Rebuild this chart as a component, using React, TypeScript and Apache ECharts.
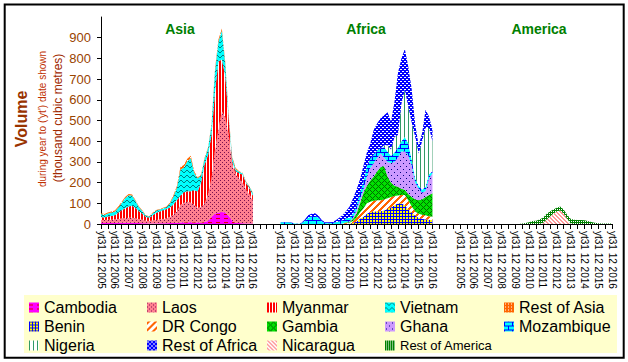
import React, { useEffect, useRef } from 'react';
import * as echarts from 'echarts';

const years = [2005, 2006, 2007, 2008, 2009, 2010, 2011, 2012, 2013, 2014, 2015, 2016];
const regionTitles = ['Asia', 'Africa', 'America'];
const regionStart = [0, 52, 104]; // first quarter index of each region on the shared axis
const totalQuarters = 149;
const yTickValues = [0, 100, 200, 300, 400, 500, 600, 700, 800, 900];

// Quarterly values, yt Dec 2005 .. yt Dec 2016 (thousand m3)
const cambodia = [5,5,5,5,5, 6,6,6,6, 6,5,5,4, 4,3,3,3, 4,4,4,5, 5,6,7,8, 8,8,8,7, 7,10,15,35, 50,55,58,55, 40,15,5,5, 4,3,3,2];
const laos = [14,14,15,16,17, 18,20,22,24, 24,22,18,16, 12,12,14,16, 18,20,24,30, 40,55,85,95, 100,95,85,70, 75,88,127,185, 305,400,487,460, 390,275,235,215, 195,165,140,110];
const myanmar = [15,12,16,18,20, 30,40,48,55, 58,50,38,30, 18,15,25,35, 38,42,45,45, 50,55,45,50, 50,55,70,80, 120,190,190,210, 280,330,250,200, 75,10,15,25, 40,30,30,25];
const vietnam = [14,13,15,16,17, 25,36,48,54, 50,34,20,12, 6,6,10,11, 10,9,9,20, 38,60,125,120, 145,160,85,63, 33,27,33,45, 100,95,140,55, 10,20,10,7, 6,5,7,10];
const restOfAsia = [4,4,5,5,6, 6,6,6,6, 5,4,4,3, 2,2,3,3, 3,3,3,5, 7,9,13,12, 12,12,7,5, 5,5,5,5, 10,10,10,10, 5,5,5,3, 3,2,2,3];

const benin = [0,0,0,0,0,0,0,0,0,0,0,0,0,0,0,0,0,0,0, 1,2,5,12,25,35,50,58,60,62,62,65,72,80,90,100,100,90,70,55,40,30,25,22,20,18];
const drCongo = [0,0,0,0,0,0,0,0,0,0,0,0,0,0,0,0,0,0, 2,5,4,10,18,30,40,50,50,52,53,53,53,53,50,45,38,40,50,45,30,20,20,20,20,18,17];
const gambia = [0,0,0,0,0,0,0,0,0,0,0,0,0,0,0,0,0,0,0, 2,4,10,20,45,75,85,102,118,140,160,162,105,70,50,42,30,25,30,45,60,65,75,88,102,113];
const ghana = [0,0,0,0,0,0,0,0,0,0,0,0,0,0,0,0,0,0,0,0, 2,5,15,20,15,45,60,65,65,65,40,70,95,115,140,180,185,185,150,80,55,30,30,80,97];
const mozambique = [8,8,8,6,2,1,3,15,30,38,40,30,12,5,4,5,8,12,16,20, 18,20,25,30,35,50,45,40,35,26,52,50,35,45,50,50,70,60,30,20,15,15,20,20,10];
const nigeria = [0,0,0,0,0,0,0,0,0,0,0,0,0,0,0,0,0,0,0,0,0,0,0,0,0,0,0,0,0,0, 8,30,30,75,60,180,228,177,179,200,155,235,284,224,145];
const restOfAfrica = [2,2,2,2,1,1,2,5,12,12,12,10,6,4,4,5,10,18,25,35, 54,75,75,65,80,65,75,120,132,145,145,160,135,170,300,220,197,193,161,60,40,39,88,55,55];

const nicaragua = [0,0,0,0,0,0,0,0,0,0,0,0,0,0,0,0,0,0,0,0,0,0,0,0, 5,20,35,50,60,65,50,25,3, 0,0,0,0,0,0,0,0,0,0,0,0];
const restOfAmerica = [0,0,0,0,0,0,0,0,0,0,0,0,0,0,0,0,0,0, 2,5,8,15,16,22,25,28,25,20,18,19,20,20,22,20,19,19,18,15,10,6,4,3,3,3,3];

const seriesDefs = [
  { name: 'Cambodia', region: 0, data: cambodia },
  { name: 'Laos', region: 0, data: laos },
  { name: 'Myanmar', region: 0, data: myanmar },
  { name: 'Vietnam', region: 0, data: vietnam },
  { name: 'Rest of Asia', region: 0, data: restOfAsia },
  { name: 'Benin', region: 1, data: benin },
  { name: 'DR Congo', region: 1, data: drCongo },
  { name: 'Gambia', region: 1, data: gambia },
  { name: 'Ghana', region: 1, data: ghana },
  { name: 'Mozambique', region: 1, data: mozambique },
  { name: 'Nigeria', region: 1, data: nigeria },
  { name: 'Rest of Africa', region: 1, data: restOfAfrica },
  { name: 'Nicaragua', region: 2, data: nicaragua },
  { name: 'Rest of America', region: 2, data: restOfAmerica },
];

const legendColumns = [
  ['Cambodia', 'Benin', 'Nigeria'],
  ['Laos', 'DR Congo', 'Rest of Africa'],
  ['Myanmar', 'Gambia', 'Nicaragua'],
  ['Vietnam', 'Ghana', 'Rest of America'],
  ['Rest of Asia', 'Mozambique'],
];
const legendColumnX = [29, 147, 267, 385, 504];

const FONT = '"Liberation Sans", Arial, Helvetica, sans-serif';

function tile(w: number, h: number, bg: string, fg: string, pred: (x: number, y: number) => boolean) {
  const c = document.createElement('canvas');
  c.width = w;
  c.height = h;
  const ctx = c.getContext('2d')!;
  ctx.fillStyle = bg;
  ctx.fillRect(0, 0, w, h);
  ctx.fillStyle = fg;
  for (let y = 0; y < h; y++) for (let x = 0; x < w; x++) if (pred(x, y)) ctx.fillRect(x, y, 1, 1);
  return { image: c, repeat: 'repeat' };
}

function makePatterns(): Record<string, any> {
  const wave = [0, 0, 1, 2, 2, 1];
  return {
    'Cambodia': tile(8, 4, '#FF00FF', '#E00000', (x, y) => y === 2 && x < 4),
    'Laos': tile(4, 4, '#FF7F8F', '#7A1050', (x, y) => (x === 0 && y === 0) || (x === 2 && y === 2)),
    'Myanmar': tile(3, 1, '#FFFFFF', '#FF0000', (x) => x < 2),
    'Vietnam': tile(6, 5, '#00FFFF', '#008080', (x, y) => y === wave[x]),
    'Rest of Asia': tile(3, 3, '#FF6600', '#FFFFFF', (x, y) => x === 1 && y === 1),
    'Benin': tile(3, 3, '#0000FF', '#FFFF00', (x, y) => x > 0 && y > 0),
    'DR Congo': tile(7, 7, '#FFFFFF', '#FF6600', (x, y) => (x + y) % 7 < 3),
    'Gambia': tile(6, 6, '#00E000', '#006E00', (x, y) => (x + y) % 6 === 0 || (x - y + 6) % 6 === 0),
    'Ghana': tile(6, 6, '#CC99FF', '#000080', (x, y) => (x === 1 && y === 1) || (x === 4 && y === 4)),
    'Mozambique': tile(8, 8, '#00FFFF', '#0000FF', (x, y) => y % 4 === 0 || (y < 4 ? x === 0 : x === 4)),
    'Nigeria': tile(4, 1, '#FFFFFF', '#339966', (x) => x === 0),
    'Rest of Africa': tile(4, 4, '#0000FF', '#FFFFFF', (x, y) => (y === 1 && x < 2) || (y === 3 && x >= 2)),
    'Nicaragua': tile(4, 4, '#FFFFFF', '#FF9999', (x, y) => (x - y + 4) % 4 < 2),
    'Rest of America': tile(2, 2, '#008000', '#FFFFFF', (x, y) => x === 1 && y === 1),
  };
}

function regionOf(i: number): number {
  for (let r = 0; r < regionStart.length; r++) {
    if (i >= regionStart[r] && i < regionStart[r] + (years.length - 1) * 4 + 1) return r;
  }
  return -1;
}

function tickLabel(i: number): string {
  const r = regionOf(i);
  if (r < 0) return '';
  const q = i - regionStart[r];
  if (q % 4 !== 0) return '';
  return 'yt31 12 ' + years[q / 4];
}

export default function App() {
  const ref = useRef<HTMLDivElement>(null);
  useEffect(() => {
    if (!ref.current) return;
    const chart = echarts.init(ref.current, undefined, { renderer: 'svg' });
    const pats = makePatterns();
    const categories: string[] = [];
    for (let i = 0; i < totalQuarters; i++) categories.push('p' + i);

    const series = seriesDefs.map((d) => {
      const full: (number | null)[] = new Array(totalQuarters).fill(null);
      d.data.forEach((v, k) => { full[regionStart[d.region] + k] = v; });
      return {
        name: d.name,
        type: 'line',
        stack: regionTitles[d.region],
        data: full,
        showSymbol: false,
        symbol: 'none',
        silent: true,
        lineStyle: { width: 0 },
        itemStyle: { color: pats[d.name] },
        areaStyle: { color: pats[d.name], opacity: 1 },
        emphasis: { disabled: true },
      };
    });

    const legends = legendColumns.map((names, ci) => ({
      orient: 'vertical',
      left: legendColumnX[ci],
      top: 298,
      padding: 0,
      itemGap: 0,
      itemWidth: 10,
      itemHeight: 10,
      icon: 'rect',
      selectedMode: false,
      textStyle: { fontSize: 16, fontFamily: FONT, color: '#000', lineHeight: 19 },
      data: names.map((n) => ({
        name: n,
        icon: 'rect',
        itemStyle: { color: pats[n], borderWidth: 0 },
        textStyle: n === 'Rest of America' ? { fontSize: 13, fontFamily: FONT, color: '#000', lineHeight: 19 } : undefined,
      })),
    }));

    const titleX = [180, 366, 539];

    chart.setOption({
      animation: false,
      backgroundColor: '#FFFFFF',
      grid: { left: 101, right: 16, top: 17, bottom: 138, containLabel: false },
      xAxis: {
        type: 'category',
        data: categories,
        boundaryGap: false,
        axisLine: { show: true, lineStyle: { color: '#000', width: 1 } },
        axisTick: { show: true, interval: (i: number) => i % 2 === 0, length: 5, lineStyle: { color: '#000' } },
        axisLabel: {
          interval: (i: number) => tickLabel(i) !== '',
          formatter: (_v: string, i: number) => tickLabel(i),
          rotate: -90,
          fontSize: 10,
          fontFamily: FONT,
          color: '#000',
          margin: 7,
          hideOverlap: false,
        },
        splitLine: { show: false },
      },
      yAxis: {
        type: 'value',
        min: 0,
        max: 1000,
        interval: 100,
        axisLine: { show: true, lineStyle: { color: '#000', width: 1 } },
        axisTick: { show: true, length: 4, lineStyle: { color: '#000' }, customValues: yTickValues },
        axisLabel: { color: '#994400', fontSize: 13, fontFamily: FONT, margin: 10, customValues: yTickValues },
        splitLine: { show: false },
      },
      legend: legends,
      graphic: [
        { type: 'rect', z: 0, shape: { x: 24, y: 295, width: 593, height: 58 }, style: { fill: '#FFFFCC' }, silent: true },
        { type: 'rect', z: 10, shape: { x: 4.7, y: 4.5, width: 619, height: 353.2 }, style: { fill: 'none', stroke: '#000', lineWidth: 2 }, silent: true },
        ...regionTitles.map((t, k) => ({
          type: 'text', x: titleX[k], y: 29, z: 10,
          style: { text: t, fontSize: 14, fontWeight: 'bold', fontFamily: FONT, fill: '#008000', align: 'center', verticalAlign: 'middle', textAlign: 'center', textVerticalAlign: 'middle' },
        })),
        {
          type: 'text', x: 21, y: 119, rotation: Math.PI / 2, z: 10,
          style: { text: 'Volume', fontSize: 16, fontWeight: 'bold', fontFamily: FONT, fill: '#993300', align: 'center', verticalAlign: 'middle', textAlign: 'center', textVerticalAlign: 'middle' },
        },
        {
          type: 'text', x: 42, y: 119, rotation: Math.PI / 2, z: 10,
          style: { text: "during year to ('yt') date shown", fontSize: 10, fontFamily: FONT, fill: '#C03000', align: 'center', verticalAlign: 'middle', textAlign: 'center', textVerticalAlign: 'middle' },
        },
        {
          type: 'text', x: 57.5, y: 118, rotation: Math.PI / 2, z: 10,
          style: { text: '(thousand cubic metres)', fontSize: 12, fontFamily: FONT, fill: '#A02800', align: 'center', verticalAlign: 'middle', textAlign: 'center', textVerticalAlign: 'middle' },
        },
      ],
      series,
    });
    return () => chart.dispose();
  }, []);
  return (
    <div
      ref={ref}
      style={{ position: 'absolute', left: 0, top: 0, width: 628, height: 362, background: '#fff' }}
    />
  );
}
